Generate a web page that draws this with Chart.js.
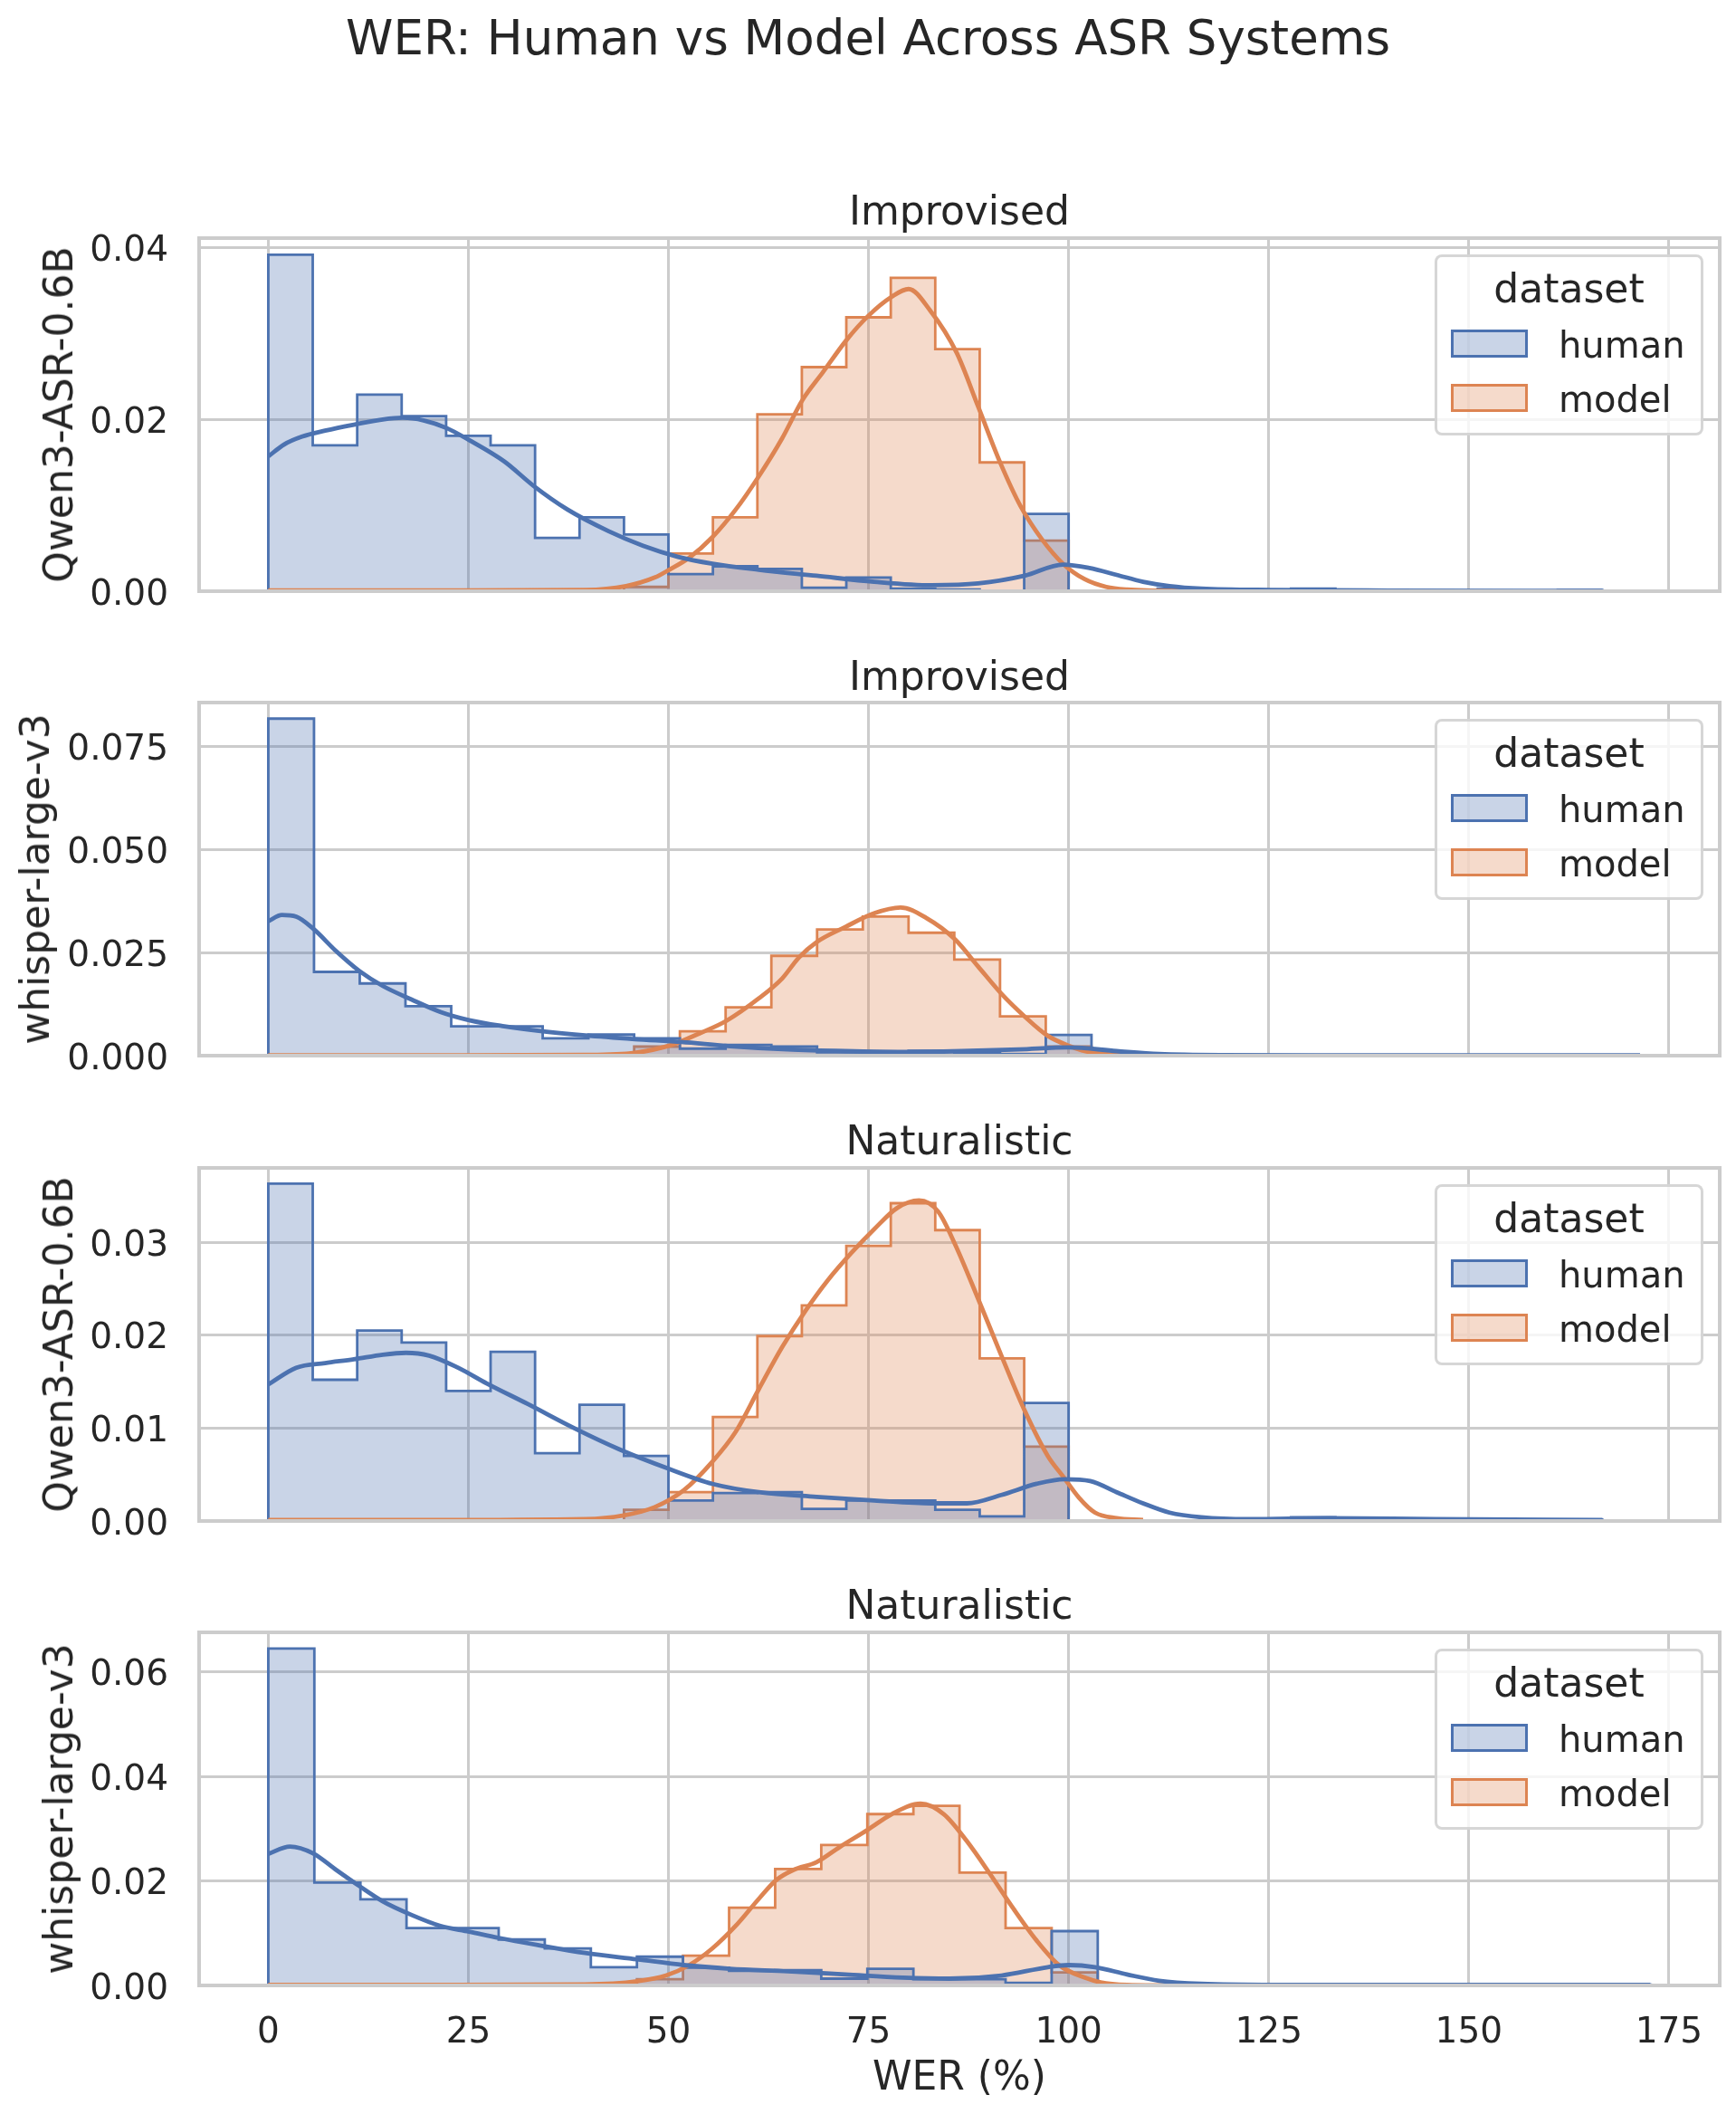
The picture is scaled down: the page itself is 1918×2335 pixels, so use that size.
<!DOCTYPE html>
<html>
<head>
<meta charset="utf-8">
<script src="https://cdn.jsdelivr.net/npm/chart.js@4.4.1/dist/chart.umd.min.js"></script>
<style>
  body { margin: 0; background: #fff; width: 1918px; height: 2335px; position: relative; overflow: hidden;
         font-family: "DejaVu Sans", sans-serif; color: #262626; }
  canvas { position: absolute; left: 0; }
  .txt { position: absolute; white-space: nowrap; line-height: 1; }
  .legend { position: absolute; box-sizing: border-box; border: 3px solid rgba(204,204,204,0.8);
            border-radius: 8px; background: rgba(255,255,255,0.8); }
  .patch { position: absolute; box-sizing: border-box; border: 3px solid; }
</style>
</head>
<body>
<script>
// ---- data ----
const figTitle = "WER: Human vs Model Across ASR Systems";
const panelTitles = ["Improvised", "Improvised", "Naturalistic", "Naturalistic"];
const systems = ["Qwen3-ASR-0.6B", "whisper-large-v3", "Qwen3-ASR-0.6B", "whisper-large-v3"];
const seriesNames = ["human", "model"];
const xLabel = "WER (%)";
const xTicks = [0, 25, 50, 75, 100, 125, 150, 175];
const yTicks1 = [0, 0.02, 0.04];
const yTicks2 = [0, 0.025, 0.05, 0.075];
const yTicks3 = [0, 0.01, 0.02, 0.03];
const yTicks4 = [0, 0.02, 0.04, 0.06];
const binMax = [166.67, 171.43, 166.67, 172.73];   // upper edge of the 30 bins per panel

// histogram densities, 30 bins each
const humanHist1 = [0.0392, 0.0170, 0.0229, 0.0204, 0.0181, 0.0170, 0.0062, 0.0086, 0.0066, 0.0020,
                    0.0029, 0.0026, 0.0004, 0.0016, 0.0003, 0.0002, 0.0000, 0.0090, 0.0000, 0.0000,
                    0.0003, 0.0000, 0.0000, 0.0003, 0.0000, 0.0000, 0.0000, 0.0000, 0.0000, 0.00015];
const modelHist1 = [0, 0, 0, 0, 0, 0, 0, 0, 0.0005, 0.0044,
                    0.0086, 0.0206, 0.0261, 0.0319, 0.0365, 0.0282, 0.0150, 0.0059, 0, 0,
                    0, 0, 0, 0, 0, 0, 0, 0, 0, 0];
const humanHist2 = [0.0817, 0.0203, 0.0175, 0.0120, 0.0071, 0.0071, 0.0042, 0.0051, 0.0042, 0.0017,
                    0.0026, 0.0022, 0.0008, 0.0009, 0.0012, 0.0007, 0.0004, 0.0050, 0.0000, 0.0000,
                    0.0000, 0.0000, 0.0000, 0.0000, 0.0000, 0.0000, 0.0000, 0.0000, 0.0000, 0.00015];
const modelHist2 = [0, 0, 0, 0, 0, 0, 0, 0.0002, 0.0022, 0.0059,
                    0.0117, 0.0242, 0.0306, 0.0337, 0.0298, 0.0233, 0.0095, 0.0022, 0, 0,
                    0, 0, 0, 0, 0, 0, 0, 0, 0, 0];
const humanHist3 = [0.0363, 0.0152, 0.0205, 0.0192, 0.0140, 0.0182, 0.0073, 0.0125, 0.0070, 0.0022,
                    0.0030, 0.0031, 0.0013, 0.0022, 0.0022, 0.0012, 0.0005, 0.0127, 0.0000, 0.0000,
                    0.0000, 0.0000, 0.0000, 0.0004, 0.0000, 0.0000, 0.0000, 0.0000, 0.0000, 0.00015];
const modelHist3 = [0, 0, 0, 0, 0, 0, 0, 0, 0.0012, 0.0031,
                    0.0112, 0.0199, 0.0232, 0.0296, 0.0342, 0.0313, 0.0175, 0.0080, 0, 0,
                    0, 0, 0, 0, 0, 0, 0, 0, 0, 0];
const humanHist4 = [0.0645, 0.0197, 0.0165, 0.0110, 0.0110, 0.0088, 0.0071, 0.0035, 0.0055, 0.0034,
                    0.0028, 0.0029, 0.0013, 0.0032, 0.0012, 0.0012, 0.0005, 0.0104, 0.0000, 0.0000,
                    0.0000, 0.0000, 0.0000, 0.0000, 0.0000, 0.0000, 0.0000, 0.0000, 0.0000, 0.00015];
const modelHist4 = [0, 0, 0, 0, 0, 0, 0, 0, 0.0012, 0.0057,
                    0.0149, 0.0223, 0.0269, 0.0328, 0.0344, 0.0216, 0.0110, 0.0025, 0, 0,
                    0, 0, 0, 0, 0, 0, 0, 0, 0, 0];

// KDE curves
const humanKdeX1 = [0, 2, 4.2, 7.1, 10.7, 14.3, 16.8, 19.4, 22.3, 25.1, 29.5, 33.1, 37.4, 42.5, 46.8, 51.2,
                    55.5, 61.3, 68.5, 75.7, 82.9, 88.7, 94.5, 99.3, 102.6, 106, 109.3, 112.6, 116.6, 125.8, 140, 166.7];
const humanKdeY1 = [0.0157, 0.0171, 0.0180, 0.0187, 0.0194, 0.0200, 0.0202, 0.0199, 0.0190, 0.0176, 0.0151,
                    0.0123, 0.0095, 0.0070, 0.0053, 0.0040, 0.0032, 0.0025, 0.0018, 0.0011, 0.0007, 0.0009,
                    0.0018, 0.0031, 0.0027, 0.0019, 0.0011, 0.0006, 0.0003, 0.00014, 0.00007, 0.00004];
const modelKdeX1 = [0, 20, 39.6, 44.7, 48.3, 50.1, 52.6, 55.5, 58.4, 61.3, 64.2, 66.7, 69.3, 72.2, 75, 77.9,
                    80, 82.7, 86, 88.7, 91.4, 94, 96.7, 99.3, 102, 104.7, 107.3, 116];
const modelKdeY1 = [0.0001, 0.0001, 0.00015, 0.0006, 0.0016, 0.0025, 0.0039, 0.0063, 0.0095, 0.0134, 0.0178,
                    0.0222, 0.0255, 0.0292, 0.0321, 0.0343, 0.0352, 0.0327, 0.0278, 0.0215, 0.0151, 0.0099,
                    0.0060, 0.0032, 0.0014, 0.0005, 0.0002, 0];
const humanKdeX2 = [0, 1.7, 3.5, 5.6, 8.5, 11.4, 14.3, 17.9, 21.5, 25.1, 29.5, 33.8, 39.6, 45.8, 51.6, 57.7,
                    64.9, 72.1, 79.3, 86.6, 93.8, 100, 106, 111.3, 119, 140, 171.4];
const humanKdeY2 = [0.0326, 0.0341, 0.0337, 0.0308, 0.0253, 0.0205, 0.0169, 0.0136, 0.0106, 0.0086, 0.0071,
                    0.0060, 0.0049, 0.0040, 0.0033, 0.0023, 0.0015, 0.0011, 0.0009, 0.0011, 0.0015, 0.0020,
                    0.0011, 0.0004, 0.00015, 0.0001, 0.0001];
const modelKdeX2 = [0, 20, 39.6, 45.8, 50.4, 54, 57.2, 61.3, 64.2, 66.3, 68.5, 72.1, 75.7, 79, 82.2, 85.8,
                    88.7, 91.6, 94.5, 97.4, 100.3, 102, 104.6, 107.3, 112];
const modelKdeY2 = [0.0001, 0.0001, 0.0002, 0.0007, 0.0026, 0.0055, 0.0084, 0.0139, 0.0187, 0.0238, 0.0275,
                    0.0312, 0.0345, 0.0359, 0.0334, 0.0282, 0.0216, 0.0150, 0.0095, 0.0048, 0.0022, 0.0011,
                    0.0004, 0.0001, 0];
const humanKdeX3 = [0, 3.5, 7.1, 10.7, 14.3, 17.2, 20.1, 23.7, 27.3, 32.4, 38.2, 43.9, 50.1, 55.5, 61.3, 68.5,
                    75.7, 82.9, 87.3, 91.6, 96, 99.5, 102.7, 106, 109.3, 112.6, 116.6, 122.5, 132.5, 145.7, 166.7];
const humanKdeY3 = [0.0147, 0.0165, 0.0170, 0.0174, 0.0179, 0.0181, 0.0178, 0.0165, 0.0148, 0.0126, 0.0100,
                    0.0077, 0.0056, 0.0040, 0.0031, 0.0026, 0.0022, 0.0019, 0.0019, 0.0028, 0.0040, 0.0045,
                    0.0043, 0.0031, 0.0019, 0.0009, 0.0004, 0.0002, 0.0003, 0.0002, 0.0001];
const modelKdeX3 = [0, 20, 39.6, 44.4, 48.3, 51.9, 55.5, 58.4, 61.3, 64.2, 67.1, 69.9, 72.8, 75.7, 78.6, 81.3,
                    83.7, 85.8, 88.7, 91.6, 94.5, 97.4, 99.3, 101.3, 103.3, 106, 109.3];
const modelKdeY3 = [0.0001, 0.0001, 0.0002, 0.0006, 0.0015, 0.0033, 0.0064, 0.0096, 0.0142, 0.0187, 0.0226,
                    0.0259, 0.0288, 0.0314, 0.0337, 0.0345, 0.0333, 0.0298, 0.0239, 0.0178, 0.0119, 0.0070,
                    0.0048, 0.0025, 0.0009, 0.0003, 0.0001];
const humanKdeX4 = [0, 2.7, 5.6, 8.5, 11.4, 14.3, 17.9, 21.5, 25.1, 28.8, 33.8, 39.6, 46.1, 51.9, 57.7, 64.9,
                    72.1, 79.3, 85.1, 91.6, 97.4, 100, 103.3, 107.3, 111.3, 116.6, 125.8, 172.7];
const humanKdeY4 = [0.0252, 0.0266, 0.0253, 0.0221, 0.0190, 0.0161, 0.0135, 0.0114, 0.0103, 0.0091, 0.0077,
                    0.0062, 0.0050, 0.0039, 0.0032, 0.0027, 0.0021, 0.0015, 0.0013, 0.0019, 0.0035, 0.0039,
                    0.0035, 0.0021, 0.0009, 0.0003, 0.0001, 0.0001];
const modelKdeX4 = [0, 20, 39.6, 46.1, 49.7, 52.6, 55.5, 58.4, 61.3, 63.4, 65.6, 68.5, 71.4, 75, 77.9, 81.5,
                    84.4, 87.3, 90.2, 93.1, 96, 98.8, 102, 104, 107.3, 112];
const modelKdeY4 = [0.0001, 0.0001, 0.0002, 0.0008, 0.0019, 0.0039, 0.0071, 0.0114, 0.0166, 0.0201, 0.0221,
                    0.0236, 0.0265, 0.0299, 0.0328, 0.0348, 0.0328, 0.0276, 0.0213, 0.0147, 0.0086, 0.0039,
                    0.0015, 0.0006, 0.0001, 0];

// ---- layout / style ----
const FONT = "DejaVu Sans";
const TEXT = "#262626";
const BLUE = "#4c72b0", ORANGE = "#dd8452";
const BLUE_FILL = "rgba(76,114,176,0.3)", ORANGE_FILL = "rgba(221,132,82,0.3)";
const xMin = -8.64, xMax = 181.35;
const axesTop = [262.7, 775.8, 1289.5, 1802.7];
const axesH = 390;
const padTop = 70;   // room for Chart.js' own label overflow, so the plot area stays where we put it
const yLabelX = [64.8, 39, 64.8, 64.8];   // y label sits left of the (wider) tick labels

const panels = [
  { yTicks: yTicks1, yMax: 0.04113, dec: 2, human: humanHist1, model: modelHist1,
    hk: [humanKdeX1, humanKdeY1], mk: [modelKdeX1, modelKdeY1] },
  { yTicks: yTicks2, yMax: 0.0856, dec: 3, human: humanHist2, model: modelHist2,
    hk: [humanKdeX2, humanKdeY2], mk: [modelKdeX2, modelKdeY2] },
  { yTicks: yTicks3, yMax: 0.0380, dec: 2, human: humanHist3, model: modelHist3,
    hk: [humanKdeX3, humanKdeY3], mk: [modelKdeX3, modelKdeY3] },
  { yTicks: yTicks4, yMax: 0.0676, dec: 2, human: humanHist4, model: modelHist4,
    hk: [humanKdeX4, humanKdeY4], mk: [modelKdeX4, modelKdeY4] }
];

// step outline: start at baseline, one point per left bin edge, drop to baseline at the end
function histPoints(heights, max) {
  const w = max / heights.length;
  const pts = [{ x: 0, y: 0 }];
  heights.forEach((h, i) => pts.push({ x: i * w, y: h }));
  pts.push({ x: max, y: 0 });
  return pts;
}

function kdePoints(xs, ys) {
  return xs.map((x, i) => ({ x: x, y: ys[i] }));
}

// put a text with its baseline at y
function placeText(str, size, x, baseline, align, rotate) {
  const d = document.createElement("div");
  d.className = "txt";
  d.textContent = str;
  d.style.fontSize = size + "px";
  if (rotate) {
    d.style.left = x + "px";
    d.style.top = baseline + "px";
    d.style.transform = "translate(-50%,-50%) rotate(-90deg)";
  } else {
    d.style.left = x + "px";
    d.style.top = (baseline - 0.846 * size) + "px";
    if (align === "center") d.style.transform = "translateX(-50%)";
  }
  document.body.appendChild(d);
  return d;
}

// light grey frame on all four sides, above the data like matplotlib spines
const framePlugin = {
  id: "frame",
  afterDatasetsDraw(chart) {
    const { ctx, chartArea: a } = chart;
    ctx.save();
    ctx.strokeStyle = "#cccccc";
    ctx.lineWidth = 4;
    ctx.strokeRect(a.left, a.top, a.right - a.left, a.bottom - a.top);
    ctx.restore();
  }
};

function addLegend(T) {
  const box = document.createElement("div");
  box.className = "legend";
  box.style.left = "1585px";
  box.style.top = (T + 18.5) + "px";
  box.style.width = "297px";
  box.style.height = "200px";
  document.body.appendChild(box);
  placeText("dataset", 44, 1733.5, T + 71.3, "center");
  const cols = [[BLUE, BLUE_FILL], [ORANGE, ORANGE_FILL]];
  seriesNames.forEach((name, i) => {
    const p = document.createElement("div");
    p.className = "patch";
    p.style.left = "1602.5px";
    p.style.top = (T + 101.3 + i * 60) + "px";
    p.style.width = "85px";
    p.style.height = "31px";
    p.style.borderColor = cols[i][0];
    p.style.background = cols[i][1];
    document.body.appendChild(p);
    placeText(name, 40, 1722, T + 132.3 + i * 60, "left");
  });
}

placeText(figTitle, 53, 959, 60, "center");

panels.forEach((p, idx) => {
  const T = axesTop[idx];
  const last = idx === panels.length - 1;
  const xAxisH = last ? 130 : 0;
  const padBottom = last ? 6 : 70;
  const H = padTop + axesH + xAxisH + padBottom;
  const canvas = document.createElement("canvas");
  canvas.width = 1918;
  canvas.height = H;
  canvas.style.top = (T - padTop) + "px";
  document.body.appendChild(canvas);

  new Chart(canvas, {
    type: "line",
    data: {
      datasets: [
        { data: histPoints(p.model, binMax[idx]), stepped: true, borderColor: ORANGE, borderWidth: 2.8,
          backgroundColor: ORANGE_FILL, fill: "origin", pointRadius: 0, order: 3 },
        { data: histPoints(p.human, binMax[idx]), stepped: true, borderColor: BLUE, borderWidth: 2.8,
          backgroundColor: BLUE_FILL, fill: "origin", pointRadius: 0, order: 2 },
        { data: kdePoints(p.mk[0], p.mk[1]), borderColor: ORANGE, borderWidth: 4.8, fill: false,
          pointRadius: 0, cubicInterpolationMode: "monotone", order: 1 },
        { data: kdePoints(p.hk[0], p.hk[1]), borderColor: BLUE, borderWidth: 4.8, fill: false,
          pointRadius: 0, cubicInterpolationMode: "monotone", order: 0 }
      ]
    },
    options: {
      responsive: false,
      animation: false,
      devicePixelRatio: 1,
      layout: { padding: { top: padTop, right: 18, bottom: padBottom, left: 0 } },
      plugins: { legend: { display: false }, tooltip: { enabled: false }, title: { display: false } },
      scales: {
        x: {
          type: "linear", min: xMin, max: xMax,
          afterBuildTicks: s => { s.ticks = xTicks.map(v => ({ value: v })); },
          afterFit: s => { s.height = xAxisH; },
          grid: { color: "#cccccc", lineWidth: 3, drawTicks: false },
          border: { display: false },
          ticks: { display: last, padding: 29, autoSkip: false, maxRotation: 0,
                   color: TEXT, font: { family: FONT, size: 39 }, callback: v => String(v) }
        },
        y: {
          type: "linear", min: 0, max: p.yMax,
          afterBuildTicks: s => { s.ticks = p.yTicks.map(v => ({ value: v })); },
          afterFit: s => { s.width = 220; },
          grid: { color: "#cccccc", lineWidth: 3, drawTicks: false },
          border: { display: false },
          ticks: { padding: 34, labelOffset: 4.5, autoSkip: false, color: TEXT,
                   font: { family: FONT, size: 39 }, callback: v => v.toFixed(p.dec) }
        }
      }
    },
    plugins: [framePlugin]
  });

  placeText(panelTitles[idx], 44, 1060, T - 14, "center");
  placeText(systems[idx], 44, yLabelX[idx], T + axesH / 2, "center", true);
  addLegend(T);
});

placeText(xLabel, 44, 1060, 2308, "center");
</script>
</body>
</html>
